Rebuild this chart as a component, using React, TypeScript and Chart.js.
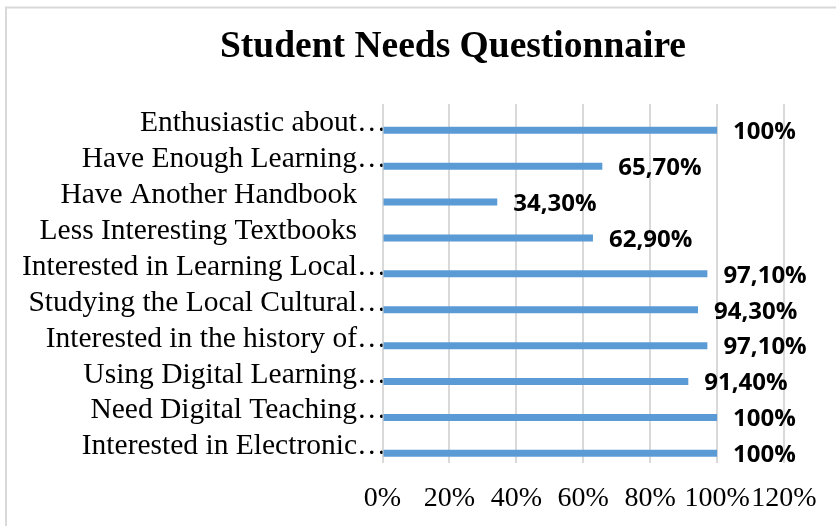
import React, { useEffect, useRef } from "react";
import { Chart, registerables } from "chart.js";

Chart.register(...registerables);

const categories: string[] = [
  "Enthusiastic about…",
  "Have Enough Learning…",
  "Have Another Handbook    ",
  "Less Interesting Textbooks    ",
  "Interested in Learning Local…",
  "Studying the Local Cultural…",
  "Interested in the history of…",
  "Using Digital Learning…",
  "Need Digital Teaching…",
  "Interested in Electronic…",
];

const percentValues: number[] = [100, 65.7, 34.3, 62.9, 97.1, 94.3, 97.1, 91.4, 100, 100];

// Empty companion series (as in the source workbook) that shifts the bars within each category
const emptySeries: (number | null)[] = [null, null, null, null, null, null, null, null, null, null];

const xTickValues: number[] = [0, 20, 40, 60, 80, 100, 120];

const SERIF = "'Liberation Serif', 'Times New Roman', serif";

function formatPct(v: number): string {
  if (Number.isInteger(v)) return `${v}%`;
  return `${v.toFixed(2).replace(".", ",")}%`;
}

const frameAndLabels = {
  id: "frameAndLabels",
  afterLayout(chart: any) {
    const t = chart.titleBlock;
    if (t) {
      t.left = 122;
      t.right = 784;
      t.width = t.right - t.left;
    }
  },
  beforeDraw(chart: any) {
    const ctx = chart.ctx;
    ctx.save();
    ctx.fillStyle = "#ffffff";
    ctx.fillRect(0, 0, chart.width, chart.height);
    ctx.strokeStyle = "#d9d9d9";
    ctx.lineWidth = 2;
    ctx.strokeRect(6, 7.5, chart.width + 20, chart.height + 20);
    ctx.restore();
  },
  afterDatasetsDraw(chart: any) {
    const ctx = chart.ctx;
    const meta = chart.getDatasetMeta(1);
    ctx.save();
    ctx.font = "bold 24px 'Open Sans', sans-serif";
    ctx.fillStyle = "#000000";
    ctx.textAlign = "left";
    ctx.textBaseline = "middle";
    meta.data.forEach((el: any, i: number) => {
      const v = percentValues[i];
      ctx.fillText(formatPct(v), el.x + 16, el.y + 2);
    });
    ctx.restore();
  },
};

export default function App() {
  const canvasRef = useRef<HTMLCanvasElement | null>(null);

  useEffect(() => {
    if (!canvasRef.current) return;
    const chart = new Chart(canvasRef.current, {
      type: "bar",
      data: {
        labels: categories,
        datasets: [
          {
            label: "",
            data: emptySeries,
            backgroundColor: "#a5a5a5",
            categoryPercentage: 0.925,
            barPercentage: 0.42,
          },
          {
            label: "Student Needs",
            data: percentValues,
            backgroundColor: "#5b9bd5",
            categoryPercentage: 0.925,
            barPercentage: 0.42,
          },
        ],
      },
      options: {
        indexAxis: "y",
        responsive: false,
        animation: false,
        layout: { padding: { left: 12, right: 52, top: 0, bottom: 0 } },
        plugins: {
          legend: { display: false },
          tooltip: { enabled: false },
          title: {
            display: true,
            text: "Student Needs Questionnaire",
            color: "#000000",
            font: { family: SERIF, size: 37.5, weight: "bold", lineHeight: 1.2 },
            padding: { top: 25, bottom: 34 },
          },
        },
        scales: {
          x: {
            type: "linear",
            min: 0,
            max: 120,
            afterBuildTicks: (scale: any) => {
              scale.ticks = xTickValues.map((v) => ({ value: v }));
            },
            ticks: {
              color: "#000000",
              font: { family: SERIF, size: 28 },
              padding: 19,
              minRotation: 0,
              maxRotation: 0,
              autoSkip: false,
              callback: (v: any) => `${v}%`,
            },
            grid: { color: "#d9d9d9", lineWidth: 2, drawTicks: false },
            border: { display: false },
            afterFit: (scale: any) => {
              scale.height = 63;
            },
          },
          y: {
            type: "category",
            grid: { display: false, drawTicks: false },
            border: { display: false },
            ticks: {
              color: "#000000",
              font: { family: SERIF, size: 29.5 },
              padding: -4,
              labelOffset: 1.5,
              autoSkip: false,
            },
            afterFit: (scale: any) => {
              scale.width = 370.5;
            },
          },
        },
      },
      plugins: [frameAndLabels],
    });
    return () => chart.destroy();
  }, []);

  return (
    <div style={{ position: "fixed", left: 0, top: 0, width: 836, height: 526, overflow: "hidden", background: "#fff" }}>
      <canvas ref={canvasRef} width={836} height={526} style={{ display: "block" }} />
    </div>
  );
}
